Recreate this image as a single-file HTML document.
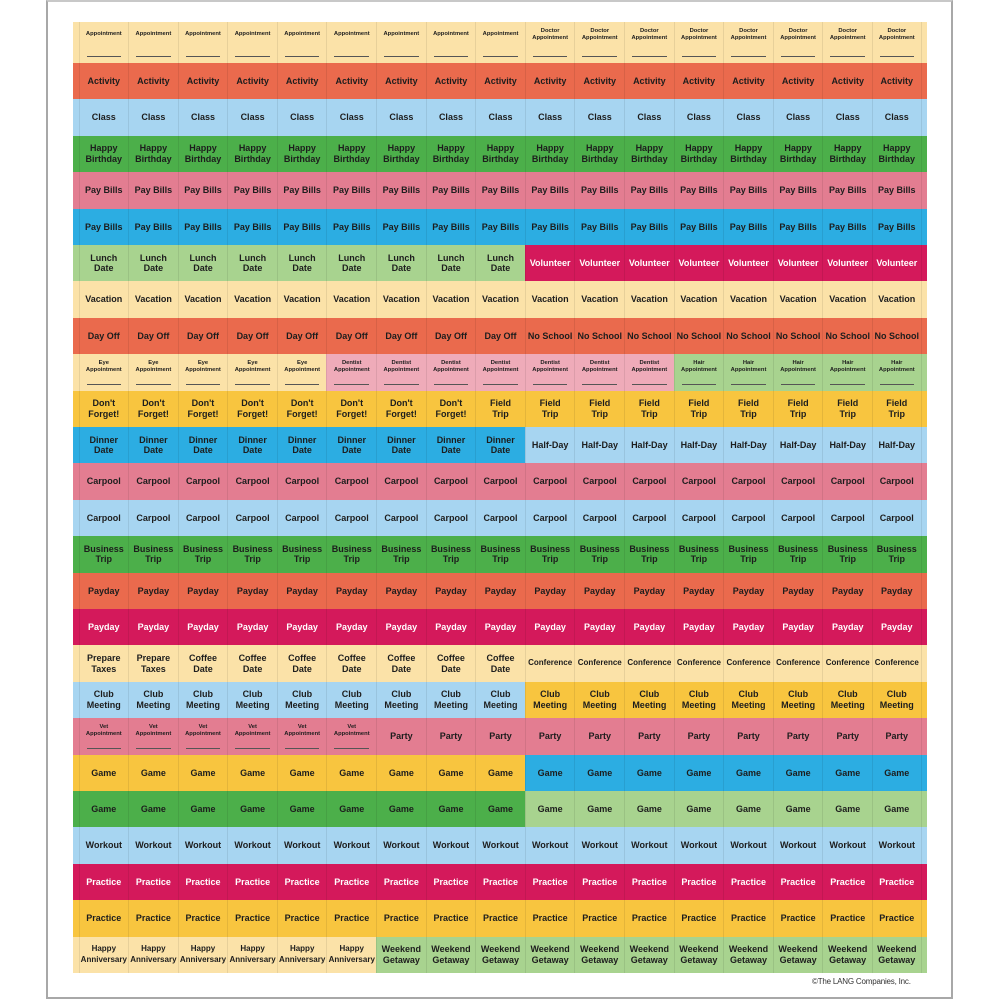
<!DOCTYPE html>
<html><head><meta charset="utf-8"><style>
*{box-sizing:border-box;margin:0;padding:0}
body{width:1000px;height:1000px;background:#fff;position:relative;overflow:hidden;font-family:"Liberation Sans",Arial,sans-serif}
#frame{position:absolute;left:46px;top:0;width:907px;height:999px;border:2px solid #a8a8a8;border-top:2px solid #c8c8c8;background:#fff}
#panel{position:absolute;left:73px;top:22px;width:854px;height:951px;background:#fbe2a8}
.r{position:absolute;left:0;width:854px;display:flex;padding-left:5.5px;padding-right:5.3px}
.r i{font-style:normal;width:49.6px;flex:0 0 49.6px;height:100%;display:flex;flex-direction:column;align-items:center;justify-content:center;text-align:center;font-weight:bold;font-size:9px;line-height:10.5px;color:#1d1d1d;border-left:1px solid rgba(0,0,0,0.08);position:relative}
.r i:last-child{border-right:1px solid rgba(0,0,0,0.08)}
.r i.s{font-size:5.8px;line-height:7px;justify-content:flex-start;padding-top:9px}
.r i.s::after{content:"";position:absolute;left:7px;right:7px;bottom:6px;border-bottom:1px solid #555}
.r i.w{color:#fff}
.be{background:#fbe2a8}.or{background:#ea6a4d}.lb{background:#a7d5f1}.gr{background:#4caf4a}.pk{background:#e37d91}.bl{background:#2cade2}.lg{background:#a8d38f}.mg{background:#d4195b}.ye{background:#f8c53f}.pp{background:#efabb9}
#copy{position:absolute;left:812px;top:977px;font-size:8px;color:#333;letter-spacing:-0.2px}
</style></head><body>
<div id="frame"></div>
<div id="panel">
<div class="r be" style="top:0;height:41px"><i class="s">Appointment</i><i class="s">Appointment</i><i class="s">Appointment</i><i class="s">Appointment</i><i class="s">Appointment</i><i class="s">Appointment</i><i class="s">Appointment</i><i class="s">Appointment</i><i class="s">Appointment</i><i class="s" style="padding-top:6px">Doctor<br>Appointment</i><i class="s" style="padding-top:6px">Doctor<br>Appointment</i><i class="s" style="padding-top:6px">Doctor<br>Appointment</i><i class="s" style="padding-top:6px">Doctor<br>Appointment</i><i class="s" style="padding-top:6px">Doctor<br>Appointment</i><i class="s" style="padding-top:6px">Doctor<br>Appointment</i><i class="s" style="padding-top:6px">Doctor<br>Appointment</i><i class="s" style="padding-top:6px">Doctor<br>Appointment</i></div>
<div class="r or" style="top:41px;height:36.4px"><i>Activity</i><i>Activity</i><i>Activity</i><i>Activity</i><i>Activity</i><i>Activity</i><i>Activity</i><i>Activity</i><i>Activity</i><i>Activity</i><i>Activity</i><i>Activity</i><i>Activity</i><i>Activity</i><i>Activity</i><i>Activity</i><i>Activity</i></div>
<div class="r lb" style="top:77.4px;height:36.4px"><i>Class</i><i>Class</i><i>Class</i><i>Class</i><i>Class</i><i>Class</i><i>Class</i><i>Class</i><i>Class</i><i>Class</i><i>Class</i><i>Class</i><i>Class</i><i>Class</i><i>Class</i><i>Class</i><i>Class</i></div>
<div class="r gr" style="top:113.8px;height:36.4px"><i>Happy<br>Birthday</i><i>Happy<br>Birthday</i><i>Happy<br>Birthday</i><i>Happy<br>Birthday</i><i>Happy<br>Birthday</i><i>Happy<br>Birthday</i><i>Happy<br>Birthday</i><i>Happy<br>Birthday</i><i>Happy<br>Birthday</i><i>Happy<br>Birthday</i><i>Happy<br>Birthday</i><i>Happy<br>Birthday</i><i>Happy<br>Birthday</i><i>Happy<br>Birthday</i><i>Happy<br>Birthday</i><i>Happy<br>Birthday</i><i>Happy<br>Birthday</i></div>
<div class="r pk" style="top:150.2px;height:36.4px"><i>Pay Bills</i><i>Pay Bills</i><i>Pay Bills</i><i>Pay Bills</i><i>Pay Bills</i><i>Pay Bills</i><i>Pay Bills</i><i>Pay Bills</i><i>Pay Bills</i><i>Pay Bills</i><i>Pay Bills</i><i>Pay Bills</i><i>Pay Bills</i><i>Pay Bills</i><i>Pay Bills</i><i>Pay Bills</i><i>Pay Bills</i></div>
<div class="r bl" style="top:186.6px;height:36.4px"><i>Pay Bills</i><i>Pay Bills</i><i>Pay Bills</i><i>Pay Bills</i><i>Pay Bills</i><i>Pay Bills</i><i>Pay Bills</i><i>Pay Bills</i><i>Pay Bills</i><i>Pay Bills</i><i>Pay Bills</i><i>Pay Bills</i><i>Pay Bills</i><i>Pay Bills</i><i>Pay Bills</i><i>Pay Bills</i><i>Pay Bills</i></div>
<div class="r lg" style="top:223px;height:36.4px;background:linear-gradient(to right,#a8d38f 52.9%,#d4195b 52.9%)"><i>Lunch<br>Date</i><i>Lunch<br>Date</i><i>Lunch<br>Date</i><i>Lunch<br>Date</i><i>Lunch<br>Date</i><i>Lunch<br>Date</i><i>Lunch<br>Date</i><i>Lunch<br>Date</i><i>Lunch<br>Date</i><i class="mg w">Volunteer</i><i class="mg w">Volunteer</i><i class="mg w">Volunteer</i><i class="mg w">Volunteer</i><i class="mg w">Volunteer</i><i class="mg w">Volunteer</i><i class="mg w">Volunteer</i><i class="mg w">Volunteer</i></div>
<div class="r be" style="top:259.4px;height:36.4px"><i>Vacation</i><i>Vacation</i><i>Vacation</i><i>Vacation</i><i>Vacation</i><i>Vacation</i><i>Vacation</i><i>Vacation</i><i>Vacation</i><i>Vacation</i><i>Vacation</i><i>Vacation</i><i>Vacation</i><i>Vacation</i><i>Vacation</i><i>Vacation</i><i>Vacation</i></div>
<div class="r or" style="top:295.8px;height:36.4px"><i>Day Off</i><i>Day Off</i><i>Day Off</i><i>Day Off</i><i>Day Off</i><i>Day Off</i><i>Day Off</i><i>Day Off</i><i>Day Off</i><i>No School</i><i>No School</i><i>No School</i><i>No School</i><i>No School</i><i>No School</i><i>No School</i><i>No School</i></div>
<div class="r be" style="top:332.2px;height:36.4px;background:linear-gradient(to right,#fbe2a8 50%,#a8d38f 50%)"><i class="s" style="padding-top:6px">Eye<br>Appointment</i><i class="s" style="padding-top:6px">Eye<br>Appointment</i><i class="s" style="padding-top:6px">Eye<br>Appointment</i><i class="s" style="padding-top:6px">Eye<br>Appointment</i><i class="s" style="padding-top:6px">Eye<br>Appointment</i><i class="s pp" style="padding-top:6px">Dentist<br>Appointment</i><i class="s pp" style="padding-top:6px">Dentist<br>Appointment</i><i class="s pp" style="padding-top:6px">Dentist<br>Appointment</i><i class="s pp" style="padding-top:6px">Dentist<br>Appointment</i><i class="s pp" style="padding-top:6px">Dentist<br>Appointment</i><i class="s pp" style="padding-top:6px">Dentist<br>Appointment</i><i class="s pp" style="padding-top:6px">Dentist<br>Appointment</i><i class="s lg" style="padding-top:6px">Hair<br>Appointment</i><i class="s lg" style="padding-top:6px">Hair<br>Appointment</i><i class="s lg" style="padding-top:6px">Hair<br>Appointment</i><i class="s lg" style="padding-top:6px">Hair<br>Appointment</i><i class="s lg" style="padding-top:6px">Hair<br>Appointment</i></div>
<div class="r ye" style="top:368.6px;height:36.4px"><i>Don't<br>Forget!</i><i>Don't<br>Forget!</i><i>Don't<br>Forget!</i><i>Don't<br>Forget!</i><i>Don't<br>Forget!</i><i>Don't<br>Forget!</i><i>Don't<br>Forget!</i><i>Don't<br>Forget!</i><i>Field<br>Trip</i><i>Field<br>Trip</i><i>Field<br>Trip</i><i>Field<br>Trip</i><i>Field<br>Trip</i><i>Field<br>Trip</i><i>Field<br>Trip</i><i>Field<br>Trip</i><i>Field<br>Trip</i></div>
<div class="r bl" style="top:405px;height:36.4px;background:linear-gradient(to right,#2cade2 52.9%,#a7d5f1 52.9%)"><i>Dinner<br>Date</i><i>Dinner<br>Date</i><i>Dinner<br>Date</i><i>Dinner<br>Date</i><i>Dinner<br>Date</i><i>Dinner<br>Date</i><i>Dinner<br>Date</i><i>Dinner<br>Date</i><i>Dinner<br>Date</i><i class="lb">Half-Day</i><i class="lb">Half-Day</i><i class="lb">Half-Day</i><i class="lb">Half-Day</i><i class="lb">Half-Day</i><i class="lb">Half-Day</i><i class="lb">Half-Day</i><i class="lb">Half-Day</i></div>
<div class="r pk" style="top:441.4px;height:36.4px"><i>Carpool</i><i>Carpool</i><i>Carpool</i><i>Carpool</i><i>Carpool</i><i>Carpool</i><i>Carpool</i><i>Carpool</i><i>Carpool</i><i>Carpool</i><i>Carpool</i><i>Carpool</i><i>Carpool</i><i>Carpool</i><i>Carpool</i><i>Carpool</i><i>Carpool</i></div>
<div class="r lb" style="top:477.8px;height:36.4px"><i>Carpool</i><i>Carpool</i><i>Carpool</i><i>Carpool</i><i>Carpool</i><i>Carpool</i><i>Carpool</i><i>Carpool</i><i>Carpool</i><i>Carpool</i><i>Carpool</i><i>Carpool</i><i>Carpool</i><i>Carpool</i><i>Carpool</i><i>Carpool</i><i>Carpool</i></div>
<div class="r gr" style="top:514.2px;height:36.4px"><i>Business<br>Trip</i><i>Business<br>Trip</i><i>Business<br>Trip</i><i>Business<br>Trip</i><i>Business<br>Trip</i><i>Business<br>Trip</i><i>Business<br>Trip</i><i>Business<br>Trip</i><i>Business<br>Trip</i><i>Business<br>Trip</i><i>Business<br>Trip</i><i>Business<br>Trip</i><i>Business<br>Trip</i><i>Business<br>Trip</i><i>Business<br>Trip</i><i>Business<br>Trip</i><i>Business<br>Trip</i></div>
<div class="r or" style="top:550.6px;height:36.4px"><i>Payday</i><i>Payday</i><i>Payday</i><i>Payday</i><i>Payday</i><i>Payday</i><i>Payday</i><i>Payday</i><i>Payday</i><i>Payday</i><i>Payday</i><i>Payday</i><i>Payday</i><i>Payday</i><i>Payday</i><i>Payday</i><i>Payday</i></div>
<div class="r mg" style="top:587px;height:36.4px"><i class="w">Payday</i><i class="w">Payday</i><i class="w">Payday</i><i class="w">Payday</i><i class="w">Payday</i><i class="w">Payday</i><i class="w">Payday</i><i class="w">Payday</i><i class="w">Payday</i><i class="w">Payday</i><i class="w">Payday</i><i class="w">Payday</i><i class="w">Payday</i><i class="w">Payday</i><i class="w">Payday</i><i class="w">Payday</i><i class="w">Payday</i></div>
<div class="r be" style="top:623.4px;height:36.4px"><i>Prepare<br>Taxes</i><i>Prepare<br>Taxes</i><i>Coffee<br>Date</i><i>Coffee<br>Date</i><i>Coffee<br>Date</i><i>Coffee<br>Date</i><i>Coffee<br>Date</i><i>Coffee<br>Date</i><i>Coffee<br>Date</i><i style="font-size:8px">Conference</i><i style="font-size:8px">Conference</i><i style="font-size:8px">Conference</i><i style="font-size:8px">Conference</i><i style="font-size:8px">Conference</i><i style="font-size:8px">Conference</i><i style="font-size:8px">Conference</i><i style="font-size:8px">Conference</i></div>
<div class="r lb" style="top:659.8px;height:36.4px;background:linear-gradient(to right,#a7d5f1 52.9%,#f8c53f 52.9%)"><i>Club<br>Meeting</i><i>Club<br>Meeting</i><i>Club<br>Meeting</i><i>Club<br>Meeting</i><i>Club<br>Meeting</i><i>Club<br>Meeting</i><i>Club<br>Meeting</i><i>Club<br>Meeting</i><i>Club<br>Meeting</i><i class="ye">Club<br>Meeting</i><i class="ye">Club<br>Meeting</i><i class="ye">Club<br>Meeting</i><i class="ye">Club<br>Meeting</i><i class="ye">Club<br>Meeting</i><i class="ye">Club<br>Meeting</i><i class="ye">Club<br>Meeting</i><i class="ye">Club<br>Meeting</i></div>
<div class="r pk" style="top:696.2px;height:36.4px"><i class="s" style="padding-top:6px">Vet<br>Appointment</i><i class="s" style="padding-top:6px">Vet<br>Appointment</i><i class="s" style="padding-top:6px">Vet<br>Appointment</i><i class="s" style="padding-top:6px">Vet<br>Appointment</i><i class="s" style="padding-top:6px">Vet<br>Appointment</i><i class="s" style="padding-top:6px">Vet<br>Appointment</i><i>Party</i><i>Party</i><i>Party</i><i>Party</i><i>Party</i><i>Party</i><i>Party</i><i>Party</i><i>Party</i><i>Party</i><i>Party</i></div>
<div class="r ye" style="top:732.6px;height:36.4px;background:linear-gradient(to right,#f8c53f 52.9%,#2cade2 52.9%)"><i>Game</i><i>Game</i><i>Game</i><i>Game</i><i>Game</i><i>Game</i><i>Game</i><i>Game</i><i>Game</i><i class="bl">Game</i><i class="bl">Game</i><i class="bl">Game</i><i class="bl">Game</i><i class="bl">Game</i><i class="bl">Game</i><i class="bl">Game</i><i class="bl">Game</i></div>
<div class="r gr" style="top:769px;height:36.4px;background:linear-gradient(to right,#4caf4a 52.9%,#a8d38f 52.9%)"><i>Game</i><i>Game</i><i>Game</i><i>Game</i><i>Game</i><i>Game</i><i>Game</i><i>Game</i><i>Game</i><i class="lg">Game</i><i class="lg">Game</i><i class="lg">Game</i><i class="lg">Game</i><i class="lg">Game</i><i class="lg">Game</i><i class="lg">Game</i><i class="lg">Game</i></div>
<div class="r lb" style="top:805.4px;height:36.4px"><i>Workout</i><i>Workout</i><i>Workout</i><i>Workout</i><i>Workout</i><i>Workout</i><i>Workout</i><i>Workout</i><i>Workout</i><i>Workout</i><i>Workout</i><i>Workout</i><i>Workout</i><i>Workout</i><i>Workout</i><i>Workout</i><i>Workout</i></div>
<div class="r mg" style="top:841.8px;height:36.4px"><i class="w">Practice</i><i class="w">Practice</i><i class="w">Practice</i><i class="w">Practice</i><i class="w">Practice</i><i class="w">Practice</i><i class="w">Practice</i><i class="w">Practice</i><i class="w">Practice</i><i class="w">Practice</i><i class="w">Practice</i><i class="w">Practice</i><i class="w">Practice</i><i class="w">Practice</i><i class="w">Practice</i><i class="w">Practice</i><i class="w">Practice</i></div>
<div class="r ye" style="top:878.2px;height:36.4px"><i>Practice</i><i>Practice</i><i>Practice</i><i>Practice</i><i>Practice</i><i>Practice</i><i>Practice</i><i>Practice</i><i>Practice</i><i>Practice</i><i>Practice</i><i>Practice</i><i>Practice</i><i>Practice</i><i>Practice</i><i>Practice</i><i>Practice</i></div>
<div class="r be" style="top:914.6px;height:36.4px;background:linear-gradient(to right,#fbe2a8 50%,#a8d38f 50%)"><i style="font-size:8px">Happy<br>Anniversary</i><i style="font-size:8px">Happy<br>Anniversary</i><i style="font-size:8px">Happy<br>Anniversary</i><i style="font-size:8px">Happy<br>Anniversary</i><i style="font-size:8px">Happy<br>Anniversary</i><i style="font-size:8px">Happy<br>Anniversary</i><i class="lg">Weekend<br>Getaway</i><i class="lg">Weekend<br>Getaway</i><i class="lg">Weekend<br>Getaway</i><i class="lg">Weekend<br>Getaway</i><i class="lg">Weekend<br>Getaway</i><i class="lg">Weekend<br>Getaway</i><i class="lg">Weekend<br>Getaway</i><i class="lg">Weekend<br>Getaway</i><i class="lg">Weekend<br>Getaway</i><i class="lg">Weekend<br>Getaway</i><i class="lg">Weekend<br>Getaway</i></div>
</div>
<div id="copy">©The LANG Companies, Inc.</div>
</body></html>
